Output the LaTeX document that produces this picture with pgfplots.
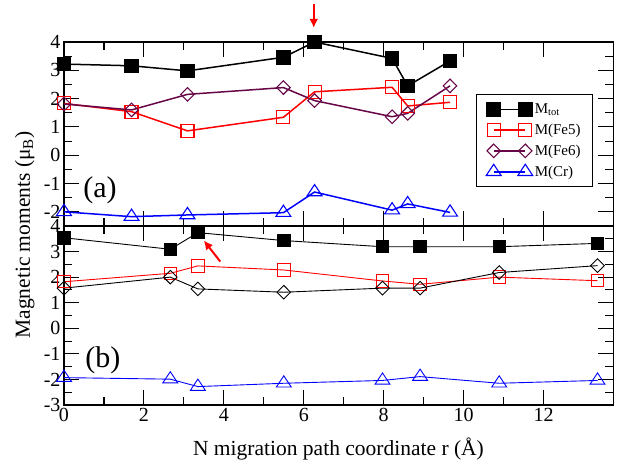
\documentclass[border=0pt]{standalone}
\usepackage{fontspec}
\setmainfont{Liberation Serif}
\setsansfont{Liberation Serif}
\usepackage{pgfplots}
\pgfplotsset{compat=1.18}
\usetikzlibrary{arrows.meta}
\definecolor{maroon}{RGB}{103,7,72}

\pgfplotsset{
  mybase/.style={
    scale only axis, width=549.5pt, xmin=0, xmax=13.75,
    xtick={0,2,...,12}, minor x tick num=1, minor y tick num=1,
    tick align=inside, major tick length=15pt, minor tick length=8pt,
    every tick/.style={line width=1.1pt, black},
    axis line style={line width=1.5pt},
    /pgf/number format/assume math mode=true,
    tick label style={font=\rmfamily\fontsize{20}{24}\selectfont},
    clip=false,
  },
  grleg/.style={legend image code/.code={\draw[##1] plot coordinates {(0pt,0pt) (31.6pt,0pt)};}},
}

\begin{document}
\begin{tikzpicture}
% bottom panel (b)
\begin{axis}[mybase, at={(0pt,0pt)}, anchor=south west, height=179pt,
  ymin=-3, ymax=4, ytick={-3,...,4}]
\addplot[black, line width=0.9pt, mark=square*, mark size=6.2pt, mark options={solid}] coordinates {
 (0,3.54) (2.66,3.09) (3.35,3.74) (5.5,3.43) (7.97,3.19) (8.91,3.19) (10.89,3.19) (13.35,3.32)};
\addplot[red, line width=0.9pt, mark=square, mark size=6.2pt, mark options={solid,line width=0.9pt}] coordinates {
 (0,1.82) (2.66,2.15) (3.35,2.44) (5.5,2.28) (7.97,1.85) (8.91,1.72) (10.89,2.0) (13.35,1.86)};
\addplot[black, line width=0.9pt, mark=diamond, mark size=6.8pt, mark options={solid,xscale=1.33,line width=0.9pt}] coordinates {
 (0,1.57) (2.66,2.0) (3.35,1.54) (5.5,1.41) (7.97,1.57) (8.91,1.57) (10.89,2.18) (13.35,2.45)};
\addplot[blue, line width=0.9pt, mark=triangle, mark size=7.5pt, mark options={solid,xscale=1.15,line width=0.9pt}] coordinates {
 (0,-1.93) (2.66,-1.99) (3.35,-2.28) (5.5,-2.15) (7.97,-2.04) (8.91,-1.89) (10.89,-2.15) (13.35,-2.04)};
\node[font=\rmfamily\fontsize{30}{36}\selectfont] at (axis cs:0.97,-1.27) {(b)};
\draw[red, line width=2pt, -{Latex[length=9pt,width=9pt]}] (axis cs:3.91,2.61) -- (axis cs:3.5,3.43);
\end{axis}
% top panel (a)
\begin{axis}[mybase, at={(0pt,179pt)}, anchor=south west, height=184pt,
  ymin=-2.5, ymax=4, ytick={-2,...,4}, xticklabels={},
  grleg, legend cell align=left,
  legend style={at={(axis cs:10.3,2.16)}, anchor=north west, draw=black, line width=1.2pt,
    font=\rmfamily\fontsize{15}{17}\selectfont, inner xsep=10pt, inner ysep=7pt, row sep=5pt,
    /tikz/every even column/.append style={column sep=7pt}}]
\addplot[black, line width=1.5pt, mark=square*, mark size=6.5pt, mark options={solid}] coordinates {
 (0,3.22) (1.69,3.16) (3.09,2.98) (5.49,3.46) (6.27,4.0) (8.21,3.42) (8.6,2.45) (9.66,3.33)};
\addlegendentry{M\textsubscript{tot}}
\addplot[red, line width=1.5pt, mark=square, mark size=6.5pt, mark options={solid,line width=1.1pt}] coordinates {
 (0,1.83) (1.69,1.54) (3.09,0.86) (5.49,1.34) (6.27,2.24) (8.21,2.40) (8.6,1.74) (9.66,1.87)};
\addlegendentry{M(Fe5)}
\addplot[maroon, line width=1.5pt, mark=diamond, mark size=6.8pt, mark options={solid,xscale=1.33,line width=1.1pt}] coordinates {
 (0,1.81) (1.69,1.6) (3.09,2.15) (5.49,2.39) (6.27,1.93) (8.21,1.36) (8.6,1.48) (9.66,2.45)};
\addlegendentry{M(Fe6)}
\addplot[blue, line width=1.5pt, mark=triangle, mark size=7.5pt, mark options={solid,xscale=1.15,line width=1.1pt}] coordinates {
 (0,-2.0) (1.69,-2.17) (3.09,-2.11) (5.49,-2.03) (6.27,-1.3) (8.21,-1.94) (8.6,-1.72) (9.66,-2.02)};
\addlegendentry{M(Cr)}
\node[font=\rmfamily\fontsize{30}{36}\selectfont] at (axis cs:0.9,-1.23) {(a)};
\draw[red, line width=2pt, -{Latex[length=9pt,width=9pt]}] (axis cs:6.25,5.36) -- (axis cs:6.25,4.5);
\end{axis}
\node[rotate=90, anchor=base, font=\rmfamily\fontsize{21.5}{26}\selectfont] at (-34pt,170pt) {Magnetic moments (μ\textsubscript{B})};
\node[anchor=base, font=\rmfamily\fontsize{21.5}{26}\selectfont] at (274.5pt,-51pt) {N migration path coordinate r (Å)};
\pgfresetboundingbox
\path[use as bounding box] (-64pt,-60pt) rectangle (558pt,405pt);
\end{tikzpicture}
\end{document}
